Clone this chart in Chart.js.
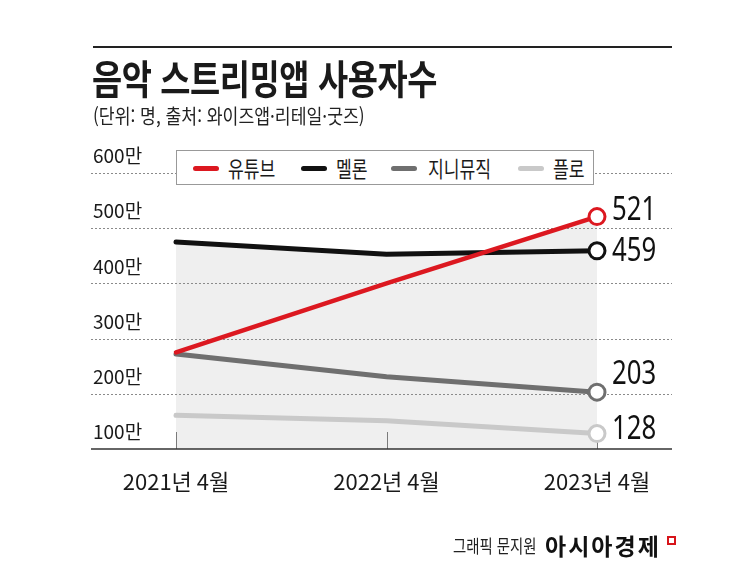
<!DOCTYPE html>
<html lang="ko">
<head>
  <meta charset="UTF-8">
  <title>음악 스트리밍앱 사용자수</title>
  <script src="https://cdn.jsdelivr.net/npm/chart.js"></script>
  <style>
    body {
      margin: 0;
      padding: 0;
      background: #fff;
      font-family: "Noto Sans CJK KR", "Noto Sans", sans-serif;
      color: #1a1a1a;
    }

    #wrap {
      position: relative;
      width: 745px;
      height: 568px;
      overflow: hidden;
    }

    #chart {
      position: absolute;
      left: 0;
      top: 0;
    }

    .rule {
      position: absolute;
      left: 93px;
      top: 46px;
      width: 579px;
      height: 2px;
      background: #222;
    }

    .title {
      position: absolute;
      left: 92px;
      top: 57px;
      font-size: 40px;
      line-height: 40px;
      font-weight: 700;
      white-space: nowrap;
      transform: scaleX(0.82);
      transform-origin: left top;
      letter-spacing: -0.5px;
    }

    .sub {
      position: absolute;
      left: 93px;
      top: 106px;
      font-size: 20px;
      line-height: 20px;
      white-space: nowrap;
      color: #222;
      transform: scaleX(0.86);
      transform-origin: left top;
    }

    .legend {
      position: absolute;
      left: 176px;
      top: 150px;
      width: 416px;
      height: 33px;
      background: #fff;
      border: 1px solid #999;
    }

    .legend .sw {
      position: absolute;
      top: 15px;
      width: 26px;
      height: 5px;
      border-radius: 3px;
    }

    .legend .tx {
      position: absolute;
      top: 5px;
      font-size: 22px;
      line-height: 22px;
      white-space: nowrap;
      color: #1a1a1a;
      transform: scaleX(0.78);
      transform-origin: left top;
    }

    .credit {
      position: absolute;
      left: 453px;
      top: 534px;
      white-space: nowrap;
    }

    .credit .who {
      position: absolute;
      left: 0;
      top: 2px;
      font-size: 18px;
      line-height: 18px;
      color: #222;
      transform: scaleX(0.8);
      transform-origin: left top;
    }

    .credit .brand {
      position: absolute;
      left: 92px;
      top: 0;
      font-size: 23px;
      line-height: 23px;
      font-weight: 700;
      letter-spacing: 2px;
      color: #111;
    }

    .credit .logo {
      position: absolute;
      left: 214px;
      top: 2px;
      width: 5px;
      height: 5px;
      border: 2px solid #d7141a;
    }
  </style>
</head>
<body>
  <div id="wrap">
    <canvas id="chart" width="745" height="568"></canvas>
    <div class="rule"></div>
    <div class="title">음악 스트리밍앱 사용자수</div>
    <div class="sub">(단위: 명, 출처: 와이즈앱·리테일·굿즈)</div>
    <div class="legend" id="legend"></div>
    <div class="credit">
      <span class="who">그래픽 문지원</span>
      <span class="brand">아시아경제</span>
      <span class="logo"></span>
    </div>
  </div>
  <script>
    // values in 만 명
    const labels = ["2021년 4월", "2022년 4월", "2023년 4월"];
    const names = ["유튜브", "멜론", "지니뮤직", "플로"];
    const youtube = [275, 400, 521];
    const melon = [475, 453, 459];
    const genie = [272, 231, 203];
    const flo = [161, 151, 128];
    const yTicks = [100, 200, 300, 400, 500, 600];

    const colors = ["#dc1820", "#111111", "#6f6f6f", "#c9c9c9"];
    const shade = "#efefef";
    const tickFont = "\"Noto Sans CJK KR\", \"Noto Sans\", sans-serif";

    // end-of-line value labels: small vertical nudges so they don't collide
    const labelNudge = [-6, 1, -18, -4];

    // legend (html, sits over the top gridline like the original)
    const legendSwatchX = [16, 124, 214, 341];
    const legendTextX = [51, 159, 251, 376];
    const legendEl = document.getElementById("legend");
    names.forEach((n, i) => {
      const sw = document.createElement("span");
      sw.className = "sw";
      sw.style.left = legendSwatchX[i] + "px";
      sw.style.background = colors[i];
      legendEl.appendChild(sw);
      const tx = document.createElement("span");
      tx.className = "tx";
      tx.style.left = legendTextX[i] + "px";
      tx.textContent = n;
      legendEl.appendChild(tx);
    });

    function line(ctx, x1, y1, x2, y2) {
      ctx.beginPath();
      ctx.moveTo(x1, y1);
      ctx.lineTo(x2, y2);
      ctx.stroke();
    }

    const decor = {
      id: "decor",
      beforeDatasetsDraw(chart) {
        const { ctx, scales: { x, y } } = chart;
        ctx.save();
        // dotted gridlines, run past the plot on both sides
        ctx.strokeStyle = "#8a8a8a";
        ctx.lineWidth = 1;
        ctx.setLineDash([2, 2]);
        yTicks.slice(1).forEach(v => {
          const py = Math.round(y.getPixelForValue(v)) + 0.5;
          line(ctx, 91, py, 672, py);
        });
        ctx.setLineDash([]);
        // short category ticks standing on the axis
        ctx.strokeStyle = "#7a7a7a";
        labels.forEach((l, i) => {
          const px = Math.round(x.getPixelForValue(i)) + 0.5;
          line(ctx, px, y.bottom - 17, px, y.bottom);
        });
        // baseline
        ctx.strokeStyle = "#333";
        ctx.lineWidth = 1.5;
        line(ctx, 91, y.bottom, 672, y.bottom);
        ctx.restore();
      },
      afterDatasetsDraw(chart) {
        const { ctx } = chart;
        ctx.save();
        ctx.fillStyle = "#111";
        ctx.textBaseline = "middle";
        ctx.textAlign = "left";
        ctx.font = "33px \"Noto Sans\", sans-serif";
        chart.data.datasets.forEach((ds, i) => {
          const meta = chart.getDatasetMeta(i);
          const last = meta.data.length - 1;
          const pt = meta.data[last];
          ctx.save();
          ctx.translate(pt.x + 15, pt.y + labelNudge[i]);
          ctx.scale(0.78, 1);
          ctx.fillText(String(ds.data[last]), 0, 0);
          ctx.restore();
        });
        ctx.restore();
      }
    };

    function series(i, data, fill) {
      return {
        label: names[i],
        data: data,
        borderColor: colors[i],
        borderWidth: i === 0 ? 4.5 : 5,
        backgroundColor: fill ? shade : "transparent",
        fill: fill ? "start" : false,
        tension: 0,
        borderCapStyle: "round",
        pointRadius: [0, 0, 8],
        pointHoverRadius: [0, 0, 8],
        pointBackgroundColor: "#fff",
        pointBorderColor: colors[i],
        pointBorderWidth: 3
      };
    }

    new Chart(document.getElementById("chart"), {
      type: "line",
      data: {
        labels: labels,
        datasets: [
          series(0, youtube, true),
          series(1, melon, true),
          series(2, genie, false),
          series(3, flo, false)
        ]
      },
      options: {
        responsive: false,
        animation: false,
        layout: {
          padding: { top: 173, left: 93, right: 148, bottom: 74 }
        },
        plugins: {
          legend: { display: false },
          tooltip: { enabled: false },
          filler: { drawTime: "beforeDraw" }
        },
        scales: {
          x: {
            offset: false,
            afterFit(s) { s.height = 45; },
            grid: { display: false, drawTicks: false },
            border: { display: false },
            ticks: {
              padding: 19,
              maxRotation: 0,
              autoSkip: false,
              color: "#1a1a1a",
              font: { size: 22, family: tickFont }
            }
          },
          y: {
            min: 100,
            max: 600,
            afterFit(s) { s.width = 83; },
            afterBuildTicks(s) { s.ticks = yTicks.map(v => ({ value: v })); },
            grid: { display: false, drawTicks: false },
            border: { display: false },
            ticks: {
              crossAlign: "far",
              labelOffset: -17,
              padding: 0,
              color: "#1a1a1a",
              font: { size: 19, family: tickFont },
              callback: v => v + "만"
            }
          }
        }
      },
      plugins: [decor]
    });
  </script>
</body>
</html>
